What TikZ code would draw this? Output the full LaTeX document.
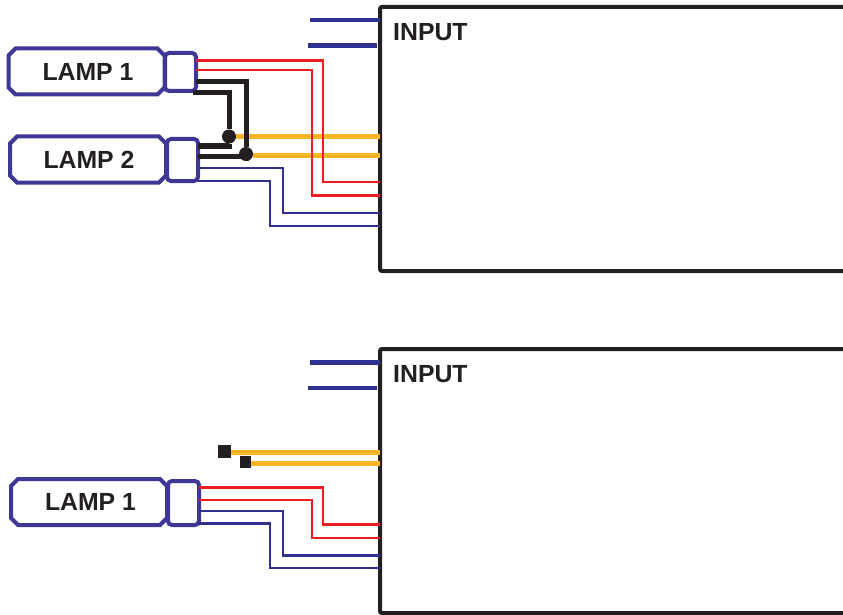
\documentclass[tikz,border=0pt]{standalone}
\usepackage{fontspec}
\setmainfont{Liberation Sans}
\usepackage{xcolor}
\usetikzlibrary{positioning,calc,shapes.misc}
\definecolor{lampblue}{HTML}{3F3795}
\definecolor{wireblue}{HTML}{2E3192}
\definecolor{wirered}{HTML}{ED1C24}
\definecolor{wireyellow}{HTML}{FBB625}
\definecolor{wireblack}{HTML}{231F20}
\tikzset{
  inputbox/.style={draw=wireblack, line width=4pt, rounded corners=2pt, anchor=north west, minimum width=500pt, minimum height=264pt, outer sep=0pt},
  lampbody/.style={chamfered rectangle, chamfered rectangle corners={north west,south west,north east,south east}, chamfered rectangle xsep=3.5pt, chamfered rectangle ysep=3.5pt, draw=lampblue, line width=4pt, anchor=west, minimum width=156pt, minimum height=46pt, inner sep=0pt, outer sep=0pt, font=\fontsize{24.8}{24.8}\selectfont\bfseries, text=wireblack},
  lampcap/.style={draw=lampblue, line width=4pt, rounded corners=4pt, anchor=north west, minimum width=31pt, inner sep=0pt, outer sep=0pt},
  boxlabel/.style={anchor=west, inner sep=0pt, font=\fontsize{24.8}{24.8}\selectfont\bfseries, text=wireblack},
  thinred/.style={wirered, line width=2.5pt},
  thinblue/.style={wireblue, line width=2.5pt},
  thickblack/.style={wireblack, line width=5pt},
  thickyellow/.style={wireyellow, line width=5pt},
  stubblue/.style={wireblue, line width=4.6pt},
  junction/.style={circle, fill=wireblack, minimum size=14pt, inner sep=0pt},
  wireend/.style={rectangle, fill=wireblack, inner sep=0pt},
}
\begin{document}
\begin{tikzpicture}[x=1pt, y=-1pt]
    \useasboundingbox (0,0) rectangle (843,615);
    \clip (0,0) rectangle (843,615);

    % Upper ballast
    \node[inputbox] (inputa) at (380,7) {};
    \node[boxlabel] (labela) at (393,32) {INPUT};
    \coordinate (stuba) at (310,20);
    \coordinate (stubb) at (308,45.5);
    \draw[stubblue] (stuba) -- (inputa.west |- stuba);
    \draw[stubblue] (stubb) -- ($(inputa.west |- stubb)+(-3,0)$);

    % Two lamps
    \node[lampbody] (lampa) at (8.5,71.5) {\kern3pt LAMP 1};
    \node[lampcap, minimum height=38pt] (capa) at (165,53) {};
    \node[lampbody] (lampb) at (10,159.5) {\kern2pt LAMP 2};
    \node[lampcap, minimum height=42pt] (capb) at (167,139) {};

    \node[junction] (joina) at (229,136.5) {};
    \node[junction] (joinb) at (246,154) {};

    \draw[thickyellow] (joina.east) -- (inputa.west |- joina);
    \draw[thickyellow] (joinb.east |- 0,155) -- (inputa.west |- 0,155);

    \draw[thickblack] (capa.east |- 0,82) -| (joinb);
    \draw[thickblack] ($(capa.east |- 0,93)+(-3,0)$) -| (joina);
    \draw[thickblack] (capb.east |- 0,146) -| (joina);
    \draw[thickblack] (capb.east |- 0,156) -| (joinb);

    \draw[thinred] (capa.east |- 0,60.5) -| (323,182) -- (inputa.west |- 0,182);
    \draw[thinred] (capa.east |- 0,70) -| (312,195.5) -- (inputa.west |- 0,195.5);
    \draw[thinblue] (capb.east |- 0,168) -| (283,213) -- (inputa.west |- 0,213);
    \draw[thinblue] (capb.east |- 0,181) -| (270,226) -- (inputa.west |- 0,226);

    % Lower ballast
    \node[inputbox] (inputb) at (380,349) {};
    \node[boxlabel] (labelb) at (393,374) {INPUT};
    \coordinate (stubc) at (310,362.5);
    \coordinate (stubd) at (308,388);
    \draw[stubblue] (stubc) -- (inputb.west |- stubc);
    \draw[stubblue] (stubd) -- ($(inputb.west |- stubd)+(-3,0)$);

    % One lamp, free leads
    \node[lampbody] (lampc) at (11,502) {\kern3pt LAMP 1};
    \node[lampcap, minimum height=44pt] (capc) at (168,481) {};

    \node[wireend, minimum size=13pt] (enda) at (224.5,451.5) {};
    \node[wireend, minimum size=11.5pt] (endb) at (245.5,462) {};
    \draw[thickyellow] (enda.east |- 0,452.5) -- (inputb.west |- 0,452.5);
    \draw[thickyellow] (endb.east |- 0,463) -- (inputb.west |- 0,463);

    \draw[thinred] (capc.east |- 0,487.5) -| (323,524.5) -- (inputb.west |- 0,524.5);
    \draw[thinred] (capc.east |- 0,500) -| (312,538) -- (inputb.west |- 0,538);
    \draw[thinblue] (capc.east |- 0,511) -| (283,555.5) -- (inputb.west |- 0,555.5);
    \draw[thinblue] (capc.east |- 0,523.5) -| (270,568) -- (inputb.west |- 0,568);
\end{tikzpicture}
\end{document}
